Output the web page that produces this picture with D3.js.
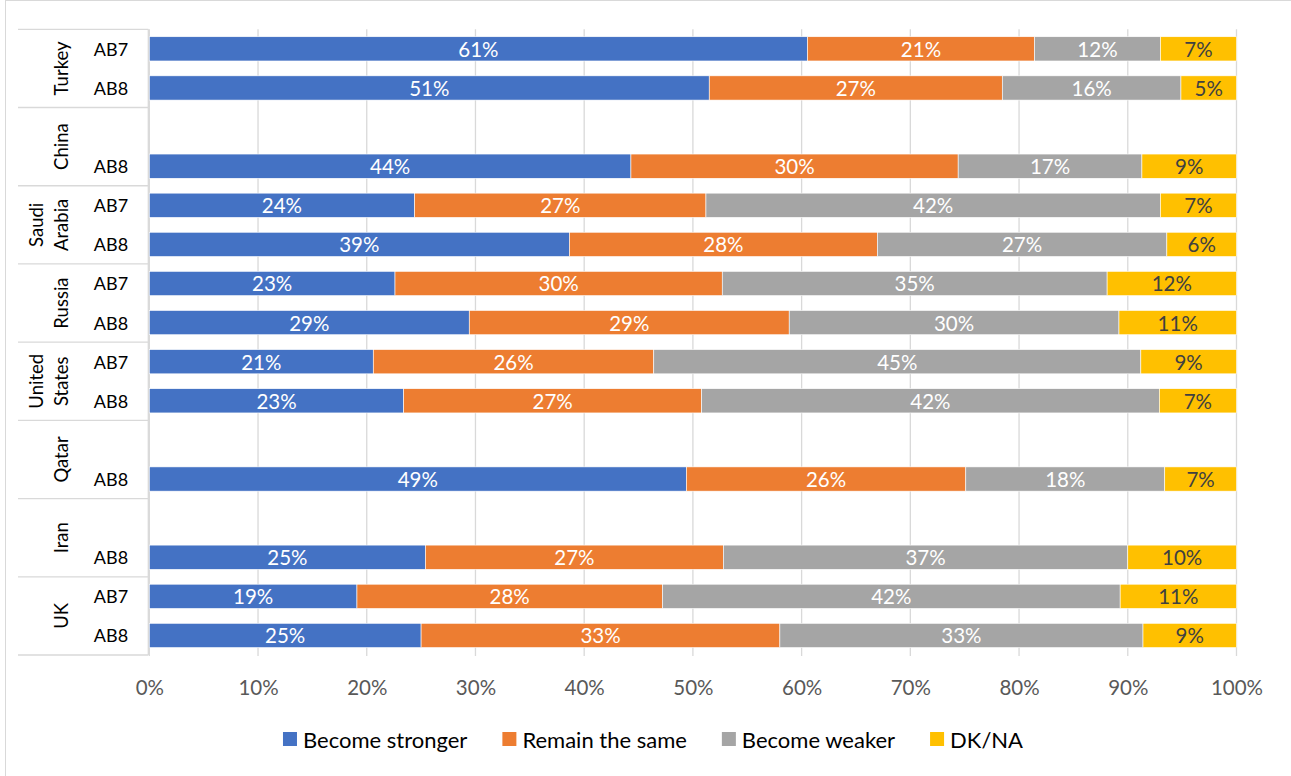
<!DOCTYPE html>
<html>
<head>
<meta charset="utf-8">
<script src="https://cdn.jsdelivr.net/npm/d3@7"></script>
<style>
  html, body { margin: 0; padding: 0; background: #fff; }
  svg { display: block; }
  text { font-family: Lato, "Open Sans", sans-serif; }
</style>
</head>
<body>
<svg id="chart" width="1291" height="776"></svg>
<script>
// ---- data ----
const countries = ["Turkey", "China", "Saudi Arabia", "Russia", "United States", "Qatar", "Iran", "UK"];
const countryLines = [["Turkey"], ["China"], ["Saudi", "Arabia"], ["Russia"], ["United", "States"], ["Qatar"], ["Iran"], ["UK"]];
const waves = ["AB7", "AB8"];
const seriesNames = ["Become stronger", "Remain the same", "Become weaker", "DK/NA"];
const seriesColors = ["#4472C4", "#ED7D31", "#A5A5A5", "#FFC000"];
const labelColors = ["#FFFFFF", "#FFFFFF", "#FFFFFF", "#404040"];
// row order: country x wave (null = no survey in that wave)
const becomeStronger = [60.6, 51.4, null, 44.3, 24.4, 38.6, 22.6, 29.4, 20.6, 23.4, null, 49.4, null, 25.4, 19.1, 25.0];
const remainSame     = [20.9, 26.9, null, 30.1, 26.8, 28.3, 30.1, 29.4, 25.8, 27.4, null, 25.7, null, 27.4, 28.1, 33.0];
const becomeWeaker   = [11.6, 16.4, null, 16.9, 41.8, 26.6, 35.4, 30.3, 44.8, 42.1, null, 18.3, null, 37.2, 42.1, 33.4];
const dkNa           = [ 7.0,  5.1, null,  8.7,  7.0,  6.4, 11.9, 10.8,  8.8,  7.1, null,  6.6, null, 10.0, 10.7,  8.6];
const tickValues = [0, 0.1, 0.2, 0.3, 0.4, 0.5, 0.6, 0.7, 0.8, 0.9, 1.0];

// ---- build rows ----
const seriesArrays = [becomeStronger, remainSame, becomeWeaker, dkNa];
const rows = [];
countries.forEach((c, ci) => {
  waves.forEach((w, wi) => {
    const idx = ci * waves.length + wi;
    const r = { id: c + "|" + w, country: c, wave: w, has: becomeStronger[idx] != null };
    seriesNames.forEach((s, si) => { r[s] = seriesArrays[si][idx] == null ? 0 : seriesArrays[si][idx]; });
    rows.push(r);
  });
});

const svg = d3.select("#chart");
const W = 1291, H = 776;
const plotTop = 29.3, plotBottom = 655;
const x = d3.scaleLinear().domain([0, 1]).range([149.3, 1236.5]);
const y = d3.scaleBand().domain(rows.map(r => r.id)).range([plotTop, plotBottom])
  .paddingInner(0.38).paddingOuter(0.19);
const step = y.step();

// outer border
svg.append("rect").attr("x", 5.5).attr("y", 0.5).attr("width", W + 10).attr("height", H + 10)
  .attr("fill", "none").attr("stroke", "#D9D9D9").attr("stroke-width", 1);

// gridlines
svg.append("g").selectAll("line").data(tickValues).join("line")
  .attr("x1", d => x(d)).attr("x2", d => x(d))
  .attr("y1", plotTop).attr("y2", plotBottom + 1)
  .attr("stroke", "#D9D9D9").attr("stroke-width", 1.3);

// category axis line
svg.append("line").attr("x1", x(0) - 1).attr("x2", x(0) - 1)
  .attr("y1", plotTop).attr("y2", plotBottom)
  .attr("stroke", "#D9D9D9").attr("stroke-width", 1.3);

// group separators
const groupBounds = d3.range(countries.length + 1).map(i => plotTop + i * waves.length * step);
svg.append("g").selectAll("line").data(groupBounds).join("line")
  .attr("x1", 18).attr("x2", x(0) - 1)
  .attr("y1", d => d).attr("y2", d => d)
  .attr("stroke", "#D9D9D9").attr("stroke-width", 1.3);

// x tick labels via axis
const xAxis = d3.axisBottom(x).tickValues(tickValues).tickFormat(d3.format(".0%")).tickSize(0).tickPadding(0);
const gx = svg.append("g").attr("transform", `translate(0, 680)`).call(xAxis);
gx.select(".domain").remove();
gx.selectAll("text").attr("fill", "#595959").attr("font-size", "20.5px").attr("dy", "0").attr("y", 15)
  .attr("font-family", "Lato, sans-serif");

// stacked bars
const stack = d3.stack().keys(seriesNames).offset(d3.stackOffsetExpand);
const stacked = stack(rows.filter(r => r.has));
const fmt = d3.format(".0f");

stacked.forEach((layer, si) => {
  const g = svg.append("g");
  g.selectAll("rect").data(layer).join("rect")
    .attr("x", d => x(d[0]))
    .attr("width", d => x(d[1]) - x(d[0]))
    .attr("y", d => y(d.data.id))
    .attr("height", y.bandwidth())
    .attr("fill", seriesColors[si])
    .attr("stroke", "#FFFFFF").attr("stroke-width", 0.6);
  g.selectAll("text").data(layer).join("text")
    .attr("x", d => (x(d[0]) + x(d[1])) / 2)
    .attr("y", d => y(d.data.id) + y.bandwidth() / 2)
    .attr("text-anchor", "middle")
    .attr("dominant-baseline", "central")
    .attr("font-size", "20.5px")
    .attr("fill", labelColors[si])
    .text(d => fmt(d.data[seriesNames[si]]) + "%");
});

// wave labels (only rows with data)
svg.append("g").selectAll("text").data(rows.filter(r => r.has)).join("text")
  .attr("x", 111)
  .attr("y", d => y(d.id) + y.bandwidth() / 2)
  .attr("text-anchor", "middle")
  .attr("dominant-baseline", "central")
  .attr("font-size", "18px")
  .attr("fill", "#000")
  .text(d => d.wave);

// country labels (rotated)
countries.forEach((c, ci) => {
  const cy = (groupBounds[ci] + groupBounds[ci + 1]) / 2;
  const lines = countryLines[ci];
  lines.forEach((ln, li) => {
    const cx = lines.length === 1 ? 61 : (li === 0 ? 36 : 61);
    svg.append("text")
      .attr("transform", `translate(${cx}, ${cy}) rotate(-90)`)
      .attr("text-anchor", "middle")
      .attr("dominant-baseline", "central")
      .attr("font-size", "18.5px")
      .attr("fill", "#000")
      .text(ln);
  });
});

// legend
const legend = svg.append("g");
const items = legend.selectAll("g").data(seriesNames).join("g");
items.append("rect").attr("width", 14).attr("height", 14).attr("y", -7)
  .attr("fill", (d, i) => seriesColors[i]);
items.append("text").attr("x", 20).attr("y", 0)
  .attr("dominant-baseline", "central")
  .attr("font-size", "22px").attr("fill", "#000")
  .text(d => d);
let cursor = 0;
const offsets = [];
items.each(function () {
  offsets.push(cursor);
  const tw = d3.select(this).select("text").node().getComputedTextLength();
  cursor += 20 + tw + 35;
});
const totalW = cursor - 35;
const startX = 653 - totalW / 2;
items.attr("transform", (d, i) => `translate(${startX + offsets[i]}, 739)`);
</script>
</body>
</html>
